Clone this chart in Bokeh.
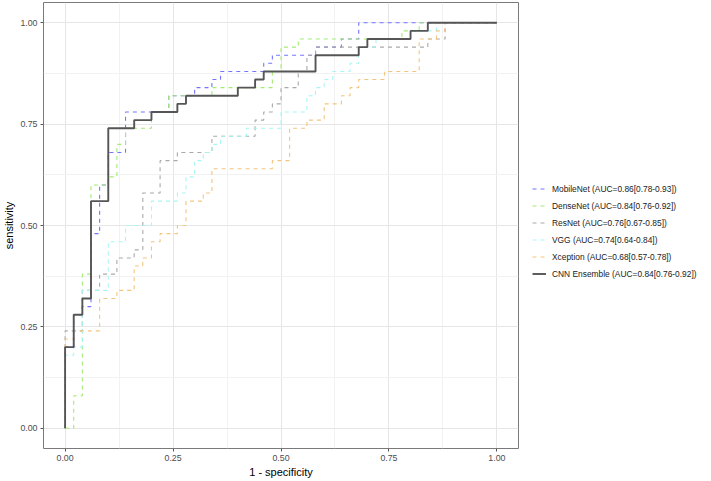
from bokeh.plotting import figure
from bokeh.models import Range1d, FixedTicker, Legend, LegendItem
from bokeh.embed import file_html
from bokeh.resources import INLINE

# ROC step vertices (1 - specificity, sensitivity)
mobilenet_fpr = [0, 0, 0.02, 0.04, 0.06, 0.08, 0.10, 0.14, 0.24, 0.30, 0.34, 0.36, 0.46, 0.48, 0.58, 0.64, 0.68, 1.00]
mobilenet_tpr = [0, 0.20, 0.28, 0.30, 0.48, 0.60, 0.68, 0.78, 0.82, 0.84, 0.86, 0.88, 0.90, 0.92, 0.94, 0.96, 1.00, 1.00]

densenet_fpr = [0, 0.02, 0.04, 0.06, 0.10, 0.12, 0.14, 0.20, 0.24, 0.34, 0.48, 0.50, 0.54, 0.78, 0.82, 1.00]
densenet_tpr = [0, 0.08, 0.38, 0.60, 0.62, 0.70, 0.74, 0.78, 0.82, 0.84, 0.88, 0.94, 0.96, 0.98, 1.00, 1.00]

resnet_fpr = [0, 0, 0.04, 0.08, 0.12, 0.16, 0.18, 0.22, 0.26, 0.34, 0.44, 0.46, 0.48, 0.50, 0.54, 0.56, 0.58, 0.84, 0.88, 1.00]
resnet_tpr = [0, 0.24, 0.34, 0.38, 0.42, 0.44, 0.58, 0.66, 0.68, 0.72, 0.76, 0.78, 0.80, 0.84, 0.88, 0.92, 0.94, 0.96, 1.00, 1.00]

vgg_fpr = [0, 0, 0.02, 0.04, 0.10, 0.14, 0.20, 0.26, 0.28, 0.30, 0.32, 0.34, 0.36, 0.42, 0.50, 0.56, 0.58, 0.60, 0.62, 0.66, 0.68, 0.72, 0.80, 0.86, 1.00]
vgg_tpr = [0, 0.18, 0.20, 0.34, 0.46, 0.50, 0.56, 0.58, 0.62, 0.66, 0.68, 0.70, 0.72, 0.74, 0.78, 0.82, 0.84, 0.86, 0.88, 0.90, 0.94, 0.96, 0.98, 1.00, 1.00]

xception_fpr = [0, 0, 0.02, 0.08, 0.12, 0.16, 0.18, 0.20, 0.22, 0.26, 0.28, 0.32, 0.34, 0.48, 0.52, 0.56, 0.60, 0.64, 0.66, 0.68, 0.74, 0.82, 0.86, 0.88, 1.00]
xception_tpr = [0, 0.22, 0.24, 0.32, 0.34, 0.40, 0.42, 0.46, 0.48, 0.50, 0.56, 0.58, 0.64, 0.66, 0.74, 0.76, 0.80, 0.82, 0.84, 0.86, 0.88, 0.96, 0.98, 1.00, 1.00]

cnn_fpr = [0, 0, 0.02, 0.04, 0.06, 0.10, 0.16, 0.20, 0.26, 0.28, 0.40, 0.44, 0.46, 0.58, 0.68, 0.70, 0.80, 0.84, 1.00]
cnn_tpr = [0, 0.20, 0.28, 0.32, 0.56, 0.74, 0.76, 0.78, 0.80, 0.82, 0.84, 0.86, 0.88, 0.92, 0.94, 0.96, 0.98, 1.00, 1.00]

series_labels = [
    "MobileNet (AUC=0.86[0.78-0.93])",
    "DenseNet (AUC=0.84[0.76-0.92])",
    "ResNet (AUC=0.76[0.67-0.85])",
    "VGG (AUC=0.74[0.64-0.84])",
    "Xception (AUC=0.68[0.57-0.78])",
    "CNN Ensemble (AUC=0.84[0.76-0.92])",
]
series_colors = ["#7474ff", "#a2ec72", "#a9a9a9", "#a6f6f6", "#f4c57c", "#555555"]

tick_values = [0, 0.25, 0.5, 0.75, 1.0]
tick_labels = ["0.00", "0.25", "0.50", "0.75", "1.00"]
minor_values = [0.125, 0.375, 0.625, 0.875]

FONT = "Liberation Sans"

p = figure(frame_width=475, frame_height=446, output_backend="svg", toolbar_location=None,
           x_range=Range1d(-0.05, 1.05), y_range=Range1d(-0.05, 1.05),
           min_border_left=0, min_border_right=184, min_border_top=2, min_border_bottom=0)
p.background_fill_color = "white"
p.border_fill_color = "white"
p.outline_line_color = "#7a7a7a"
p.outline_line_width = 1

for ax in (p.xaxis[0], p.yaxis[0]):
    ax.ticker = FixedTicker(ticks=tick_values, minor_ticks=minor_values)
    ax.major_label_overrides = {v: s for v, s in zip(tick_values, tick_labels)}
    ax.axis_line_color = None
    ax.major_tick_line_color = "#555555"
    ax.major_tick_out = 3
    ax.major_tick_in = 0
    ax.minor_tick_line_color = None
    ax.major_label_text_font = FONT
    ax.major_label_text_font_size = "8.8px"
    ax.major_label_text_color = "#4d4d4d"
    ax.major_label_standoff = 2
    ax.axis_label_text_font = FONT
    ax.axis_label_text_font_size = "11px"
    ax.axis_label_text_font_style = "normal"
    ax.axis_label_text_color = "#000000"
    ax.axis_label_standoff = 2

p.xaxis.axis_label = "1 - specificity"
p.yaxis.axis_label = "sensitivity"

for g in (p.xgrid[0], p.ygrid[0]):
    g.grid_line_color = "#e6e6e6"
    g.grid_line_width = 1
    g.minor_grid_line_color = "#f2f2f2"
    g.minor_grid_line_width = 1

fprs = [mobilenet_fpr, densenet_fpr, resnet_fpr, vgg_fpr, xception_fpr, cnn_fpr]
tprs = [mobilenet_tpr, densenet_tpr, resnet_tpr, vgg_tpr, xception_tpr, cnn_tpr]

items = []
for i, (fx, ty, lab, col) in enumerate(zip(fprs, tprs, series_labels, series_colors)):
    if i < 5:
        r = p.step(fx, ty, mode="after", line_color=col, line_width=1.1, line_dash="4 4")
    else:
        r = p.step(fx, ty, mode="after", line_color=col, line_width=1.9)
    items.append(LegendItem(label=lab, renderers=[r]))

legend = Legend(items=items, location=(14, 167))
legend.label_text_font = FONT
legend.label_text_font_size = "8.4px"
legend.label_text_color = "#1a1a1a"
legend.border_line_color = None
legend.background_fill_alpha = 0
legend.margin = 0
legend.padding = 4
legend.glyph_width = 14
legend.glyph_height = 15
legend.label_height = 15
legend.label_standoff = 6
legend.spacing = 2
p.add_layout(legend, "right")

open("out.html", "w").write(file_html(p, INLINE))
